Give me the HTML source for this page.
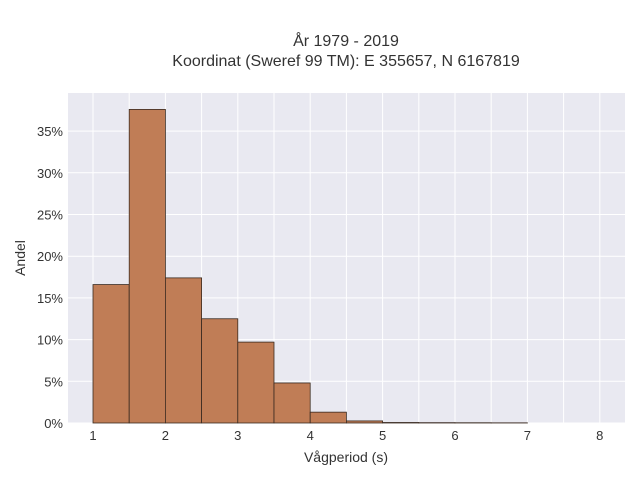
<!DOCTYPE html>
<html><head><meta charset="utf-8"><style>
body{margin:0;background:#fff;font-family:"Liberation Sans",sans-serif;}
svg text{font-family:"Liberation Sans",sans-serif;fill:#333;}
</style></head><body>
<svg id="chart" width="640" height="480" xmlns="http://www.w3.org/2000/svg">
<text x="346" y="46" text-anchor="middle" font-size="16">År 1979 - 2019</text>
<text x="346" y="66" text-anchor="middle" font-size="16">Koordinat (Sweref 99 TM): E 355657, N 6167819</text>
<rect x="68" y="93" width="557" height="330" fill="#e9e9f1"/>
<g id="grid"></g>
<g id="bars"></g>
<g id="axes"></g>
<text x="346" y="462" text-anchor="middle" font-size="14">Vågperiod (s)</text>
<text transform="translate(25,258) rotate(-90)" text-anchor="middle" font-size="14">Andel</text>
</svg>
<script>
const binStarts=[1,1.5,2,2.5,3,3.5,4,4.5,5,5.5,6,6.5];
const shares=[16.6,37.6,17.4,12.5,9.7,4.8,1.3,0.25,0.06,0.04,0.03,0.02];
const xTicks=[1,2,3,4,5,6,7,8];
const yTicks=[0,5,10,15,20,25,30,35];
const binWidth=0.5;
const NS="http://www.w3.org/2000/svg";
const X=v=>93+(v-1)*72.4;
const Y=v=>423-v*8.34;
const grid=document.getElementById('grid'),bars=document.getElementById('bars'),axes=document.getElementById('axes');
function mk(tag,attrs,parent){const e=document.createElementNS(NS,tag);for(const k in attrs)e.setAttribute(k,attrs[k]);parent.appendChild(e);return e;}
for(let v=0.5;v<=8.5;v+=0.5){const x=X(v);if(x<68||x>625)continue;
 const l=mk('line',{x1:x,x2:x,y1:93,y2:423,stroke:'#fff','stroke-width':1},grid);
 
 }
yTicks.forEach(t=>{const y=Y(t);
 const l=mk('line',{x1:68,x2:625,y1:y,y2:y,stroke:'#fff','stroke-width':1},grid);
 
 
 const tx=mk('text',{x:63,y:y+5,'text-anchor':'end','font-size':13},axes);tx.textContent=t+'%';
 
 });
xTicks.forEach(t=>{const tx=mk('text',{x:X(t),y:440,'text-anchor':'middle','font-size':13},axes);tx.textContent=t;
 
 });
binStarts.forEach((b,i)=>{const x0=X(b),x1=X(b+binWidth),y=Y(shares[i]);
 const r=mk('rect',{x:x0,y:y,width:x1-x0,height:423-y,fill:'#c07d56',stroke:'#3a2a20','stroke-width':0.8},bars);
 
 });
</script>
</body></html>
